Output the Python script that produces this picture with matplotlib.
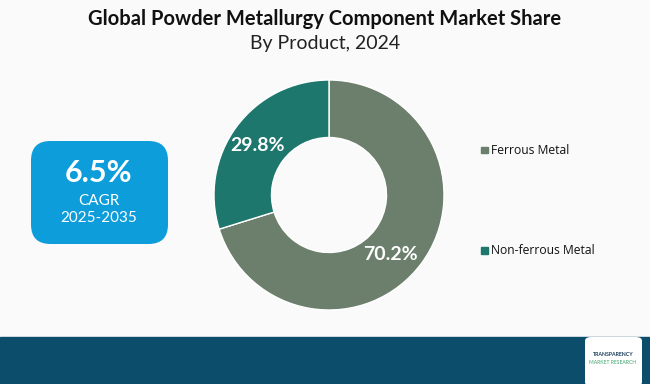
import matplotlib.pyplot as plt
from matplotlib.patches import FancyBboxPatch, Rectangle

categories = ["Ferrous Metal", "Non-ferrous Metal"]
shares = [70.2, 29.8]
colors = ["#6b7f6c", "#1e776d"]
cagr = "6.5%"
cagr_period = "2025-2035"

W, H = 650, 384
fig = plt.figure(figsize=(W / 100, H / 100), dpi=100)
fig.patch.set_facecolor("#fafafa")


def fx(px):
    return px / W


def fy(py):
    return 1 - py / H


# title
fig.text(fx(325), fy(19), "Global Powder Metallurgy Component Market Share",
         ha="center", va="center", fontsize=14.5, fontweight="bold",
         family="Lato", color="#111111")
fig.text(fx(325), fy(44), "By Product, 2024", ha="center", va="center",
         fontsize=14, family="Lato", color="#222222")

# donut
ax = fig.add_axes([fx(214), fy(310), 230 / W, 230 / H])
wedges, _ = ax.pie(shares, colors=colors, startangle=90, counterclock=False,
                   radius=1.0, wedgeprops=dict(width=0.5, edgecolor="white",
                                               linewidth=1))
ax.set_xlim(-1, 1)
ax.set_ylim(-1, 1)
ax.set_aspect("equal")
ax.axis("off")

label_pos = [(0.53, -0.52), (-0.62, 0.43)]
for (x, y), v in zip(label_pos, shares):
    ax.text(x, y, f"{v}%", ha="center", va="center", color="white",
            fontsize=14, fontweight="bold", family="Lato")

# legend
leg_y = [150, 250]
for name, c, y in zip(categories, colors, leg_y):
    fig.patches.append(Rectangle((fx(481), fy(y + 3.5)), 7 / W, 7 / H,
                                 transform=fig.transFigure, color=c))
    fig.text(fx(491), fy(y), name, ha="left", va="center", fontsize=8.7,
             family="Open Sans", color="#111111")

# CAGR box
box = FancyBboxPatch((fx(31), fy(244)), 137 / W, 103 / H,
                     boxstyle="round,pad=0,rounding_size=0.03",
                     transform=fig.transFigure, facecolor="#0d9ddb",
                     edgecolor="none", mutation_aspect=W / H)
fig.patches.append(box)
fig.text(fx(99), fy(173), cagr, ha="center", va="center", color="white",
         fontsize=22, fontweight="bold", family="Lato")
fig.text(fx(99), fy(201), "CAGR", ha="center", va="center", color="white",
         fontsize=11, family="Lato")
fig.text(fx(99), fy(218), cagr_period, ha="center", va="center",
         color="white", fontsize=11, family="Lato")

# bottom band
fig.patches.append(Rectangle((0, 0), 1, fy(337), transform=fig.transFigure,
                             color="#0b4d6b"))
logo = FancyBboxPatch((fx(585), fy(386)), 57 / W, 49 / H,
                      boxstyle="round,pad=0,rounding_size=0.01",
                      transform=fig.transFigure, facecolor="white",
                      edgecolor="none")
fig.patches.append(logo)
fig.text(fx(613), fy(355), "TRANSPARENCY", ha="center", va="center",
         fontsize=3.8, fontweight="bold", color="#1b3d5c", family="Lato")
fig.text(fx(613), fy(362), "MARKET RESEARCH", ha="center", va="center",
         fontsize=3.6, color="#3aa56a", family="Lato")

fig.savefig("out.png", dpi=100, facecolor=fig.get_facecolor())
